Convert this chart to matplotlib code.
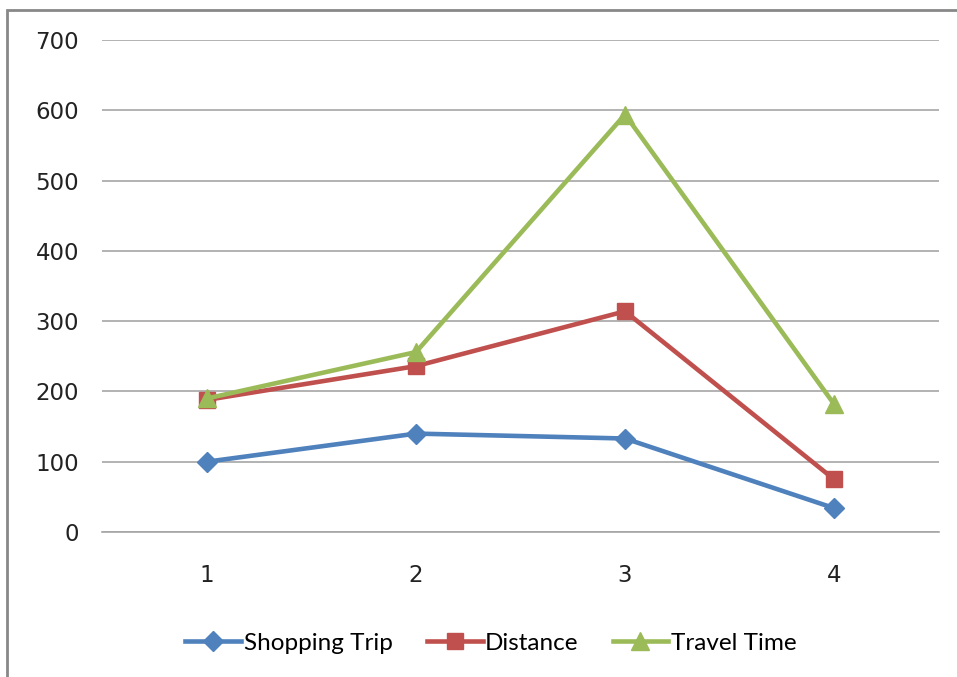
import matplotlib.pyplot as plt
from matplotlib.patches import Rectangle

categories = [1, 2, 3, 4]
shopping_trip = [100, 140, 133, 34]
distance = [188, 236, 314, 75]
travel_time = [190, 256, 594, 182]

fig = plt.figure(figsize=(9.57, 6.77), dpi=100)
ax = fig.add_axes([0.1071, 0.2142, 0.8736, 0.7267])

ax.plot(categories, shopping_trip, color="#4F81BD", lw=3.3, marker="D", ms=10, label="Shopping Trip")
ax.plot(categories, distance, color="#C0504D", lw=3.3, marker="s", ms=12, label="Distance")
ax.plot(categories, travel_time, color="#9BBB59", lw=3.3, marker="^", ms=13, label="Travel Time")

ax.set_xlim(0.5, 4.5)
ax.set_ylim(0, 700)
ax.set_yticks(range(0, 701, 100))
ax.set_xticks(categories)
ax.yaxis.grid(True, color="#a6a6a6", lw=1.2)
ax.set_axisbelow(True)
for s in ["left", "right", "top"]:
    ax.spines[s].set_visible(False)
ax.spines["bottom"].set_color("#a6a6a6")
ax.spines["bottom"].set_linewidth(1.2)
ax.tick_params(axis="both", length=0, labelsize=16.5, colors="#222222")
ax.tick_params(axis="y", pad=17)
ax.tick_params(axis="x", pad=23)

leg = fig.legend(loc="center", bbox_to_anchor=(0.513, 0.05), ncol=3, frameon=False,
                 prop={"family": "Lato", "size": 17.5}, handlelength=2.3,
                 columnspacing=1.4, handletextpad=0.1)

# outer chart border
fig.patches.append(Rectangle((7 / 957, -0.1), 1.2, 1 - 10 / 677 + 0.1, transform=fig.transFigure,
                             fill=False, edgecolor="#888888", lw=2))

fig.savefig("out.png", dpi=100)
